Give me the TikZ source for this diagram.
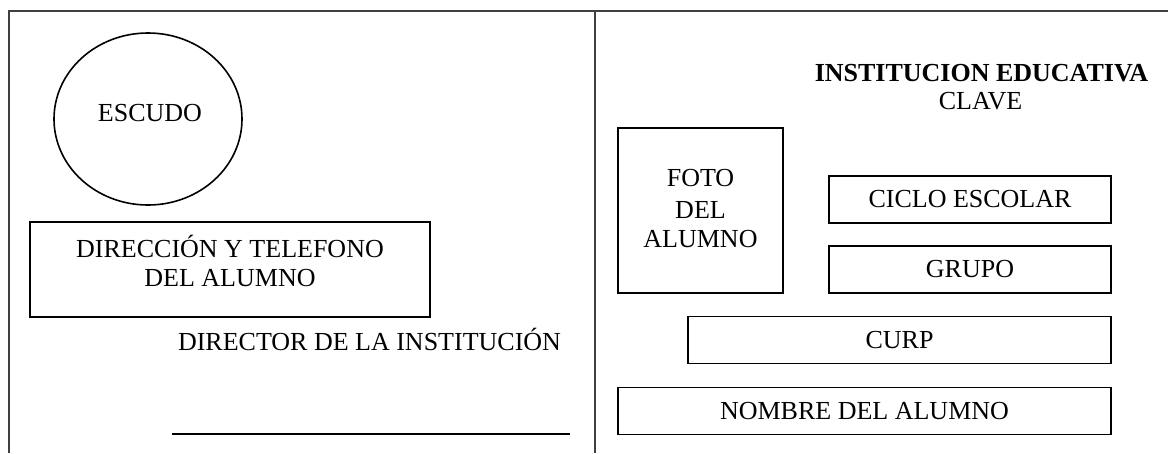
\documentclass[tikz,border=0pt]{standalone}
\usepackage{fontspec}
\setmainfont{Liberation Serif}
\usetikzlibrary{shapes,positioning}
\newcommand\CardFont{\fontsize{26}{30}\selectfont}
\newcommand\FieldH{47pt}
\newcommand\FieldL{829}
\newcommand\FieldR{1111}
\tikzstyle{field}=[rectangle,line width=1.6pt,text centered,inner sep=0pt,
                     font=\CardFont,minimum height=\FieldH]
\tikzstyle{escudo}=[ellipse,line width=1.6pt,inner sep=0pt,
                     minimum width=188pt,minimum height=172pt]
\tikzstyle{texto}=[inner sep=0pt,anchor=base,font=\CardFont]
\tikzstyle{frame}=[line width=2pt,draw=black!75]

\begin{document}
\begin{tikzpicture}[x=1pt,y=-1pt]
      \useasboundingbox[fill=white] (0,0) rectangle (1168,453);
      \draw[frame] (9,453) -- (9,11) -- (1168,11);
      \draw[frame] (594.5,11) -- (594.5,453);
      % lado izquierdo
      \node[escudo] (escudo) at (148,119) [draw] {};
      \node[texto] (escudotxt) at (150,121) {ESCUDO};
      \node[field,minimum width=400pt,minimum height=95pt] (direccion) at (230,269.5) [draw] {};
      \node[texto] (direccion1) at (230,257) {DIRECCIÓN Y TELEFONO};
      \node[texto] (direccion2) at (230,286) {DEL ALUMNO};
      \node[texto] (director) at (369.5,350) {DIRECTOR DE LA INSTITUCIÓN};
      \draw[line width=1.8pt] (172,434) -- (570,434);
      % lado derecho
      \node[texto,font=\CardFont\bfseries] (institucion) at (981.5,81) {INSTITUCION EDUCATIVA};
      \node[texto] (clave) at (980.5,109) {CLAVE};
      \node[field,minimum width=165pt,minimum height=165pt] (foto) at (700.5,210.5) [draw] {};
      \node[texto] (foto1) at (700.5,186) {FOTO};
      \node[texto] (foto2) at (700.5,218) {DEL};
      \node[texto] (foto3) at (700.5,247) {ALUMNO};
      \node[field,minimum width=\FieldR pt-\FieldL pt] (ciclo) at (\FieldL/2+\FieldR/2,199.5) [draw] {CICLO ESCOLAR};
      \node[field,minimum width=\FieldR pt-\FieldL pt] (grupo) at (\FieldL/2+\FieldR/2,269.5) [draw] {GRUPO};
      \node[field,minimum width=\FieldR pt-688pt] (curp) at (688/2+\FieldR/2,340) [draw] {CURP};
      \node[field,minimum width=\FieldR pt-618pt] (nombre) at (618/2+\FieldR/2,411) [draw] {NOMBRE DEL ALUMNO};
   \end{tikzpicture}
\end{document}
